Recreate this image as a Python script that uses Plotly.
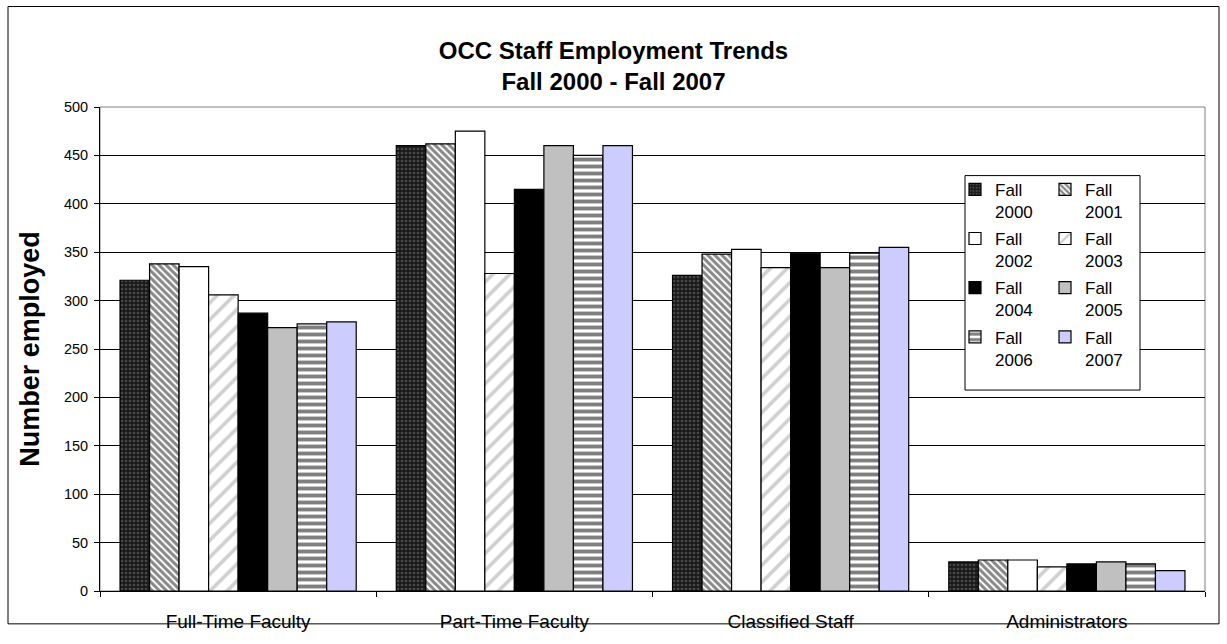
import plotly.graph_objects as go

categories = ["Full-Time Faculty", "Part-Time Faculty", "Classified Staff", "Administrators"]
series_names = ["Fall<br>2000", "Fall<br>2001", "Fall<br>2002", "Fall<br>2003",
                "Fall<br>2004", "Fall<br>2005", "Fall<br>2006", "Fall<br>2007"]
fall_2000 = [321, 460, 326, 30]
fall_2001 = [338, 462, 348, 32]
fall_2002 = [335, 475, 353, 32]
fall_2003 = [306, 328, 334, 25]
fall_2004 = [287, 415, 349, 28]
fall_2005 = [272, 460, 334, 30]
fall_2006 = [276, 450, 349, 28]
fall_2007 = [278, 460, 355, 21]
y_ticks = [0, 50, 100, 150, 200, 250, 300, 350, 400, 450, 500]
title_lines = ["OCC Staff Employment Trends", "Fall 2000 - Fall 2007"]

series_values = [fall_2000, fall_2001, fall_2002, fall_2003,
                 fall_2004, fall_2005, fall_2006, fall_2007]

styles = [
    dict(color="#1a1a1a", pattern=dict(shape=".", fgcolor="#777777", bgcolor="#1a1a1a", size=4, solidity=0.35, fillmode="overlay")),
    dict(color="white", pattern=dict(shape="\\", fgcolor="#111111", bgcolor="white", size=5, solidity=0.6, fillmode="overlay")),
    dict(color="white"),
    dict(color="white", pattern=dict(shape="/", fgcolor="#a0a0a0", bgcolor="white", size=12, solidity=0.3, fillmode="overlay")),
    dict(color="black"),
    dict(color="#C0C0C0"),
    dict(color="white", pattern=dict(shape="-", fgcolor="black", bgcolor="white", size=7, solidity=0.55, fillmode="overlay")),
    dict(color="#CCCCFF"),
]

fig = go.Figure()
for i, (name, vals, st) in enumerate(zip(series_names, series_values, styles)):
    marker = dict(color=st["color"], line=dict(color="black", width=1.2))
    if "pattern" in st:
        marker["pattern"] = st["pattern"]
    fig.add_trace(go.Bar(name=name, x=categories, y=vals, marker=marker,
                         legend="legend" if i % 2 == 0 else "legend2",
                         legendgroup="g%d" % i))

W, H = 1227, 644
ml, mr, mt, mb = 100, 22, 107, 36
pw, ph = W - ml - mr, H - mt - mb

def px_x(x):
    return (x - ml) / pw

def px_y(y):
    return (H - mb - y) / ph

leg_common = dict(orientation="v", yanchor="top", xanchor="left",
                  bgcolor="rgba(0,0,0,0)", borderwidth=0,
                  font=dict(size=17), tracegroupgap=2, valign="top",
                  itemwidth=30)

fig.update_layout(
    width=W, height=H,
    margin=dict(l=ml, r=mr, t=mt, b=mb),
    paper_bgcolor="white", plot_bgcolor="white",
    font=dict(family="Arial, Liberation Sans, sans-serif", size=14, color="black"),
    barmode="group", bargap=0.145, bargroupgap=0,
    title=dict(text="<b>%s<br>%s</b>" % (title_lines[0], title_lines[1]),
               x=0.5, xref="container", y=1 - 59 / H, yanchor="middle",
               font=dict(size=24, color="black")),
    xaxis=dict(showline=True, linecolor="black", linewidth=1, ticks="outside",
               tickson="boundaries", ticklen=5, tickcolor="black",
               tickfont=dict(size=19), showgrid=False, ticklabelstandoff=13),
    yaxis=dict(range=[0, 500], tickvals=y_ticks, showline=True, linecolor="black",
               linewidth=1, ticks="outside", ticklen=5, tickcolor="black",
               showgrid=True, gridcolor="black", gridwidth=1, zeroline=False,
               tickfont=dict(size=14.5), ticklabelstandoff=3,
               title=dict(text="<b>Number employed</b>", font=dict(size=27), standoff=16)),
    legend=dict(x=px_x(955), y=px_y(174), **leg_common),
    legend2=dict(x=px_x(1045), y=px_y(174), **leg_common),
    shapes=[
        dict(type="rect", xref="paper", yref="paper", x0=px_x(8), x1=px_x(1219),
             y0=px_y(642), y1=px_y(3), line=dict(color="black", width=1), layer="below"),
        dict(type="rect", xref="paper", yref="paper", x0=0, x1=1, y0=0, y1=1,
             line=dict(color="#808080", width=1), layer="below"),
        dict(type="rect", xref="paper", yref="paper", x0=px_x(965), x1=px_x(1140),
             y0=px_y(400), y1=px_y(178), line=dict(color="black", width=1),
             fillcolor="white", layer="above"),
    ],
)

fig.write_html("out.html", config={"displayModeBar": False},
               post_script="document.body.style.margin='0';")
